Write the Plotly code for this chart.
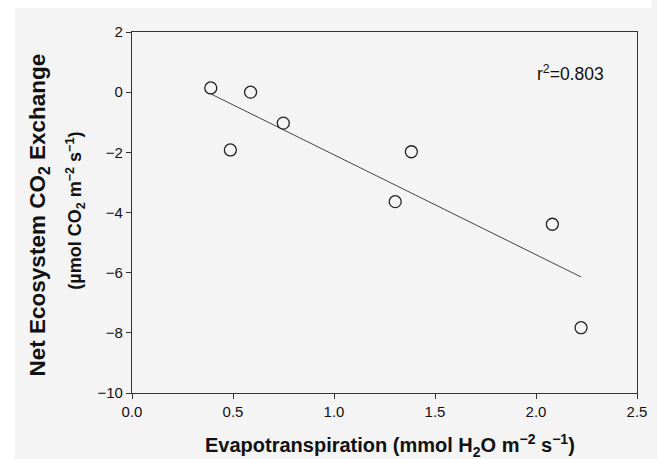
import numpy as np
import plotly.graph_objects as go

# Data
et = [0.39, 0.587, 0.487, 0.749, 1.383, 1.303, 2.081, 2.223]
nee = [0.14, 0.0, -1.92, -1.03, -1.98, -3.64, -4.39, -7.83]
r2_label = "r<sup>2</sup>=0.803"

x_ticks = [0.0, 0.5, 1.0, 1.5, 2.0, 2.5]
y_ticks = [2, 0, -2, -4, -6, -8, -10]

# Linear regression line
slope, intercept = np.polyfit(et, nee, 1)
fit_x = np.array([min(et), max(et)])
fit_y = slope * fit_x + intercept

W, H = 657, 459
L, R, T, B = 131.5, 10, 32, 66
pw, ph = W - L - R, H - T - B

BG = "#f4f4f4"
AX = "#333333"
FONT = "Arial, Liberation Sans, sans-serif"

fig = go.Figure()
fig.add_trace(go.Scatter(x=fit_x, y=fit_y, mode="lines",
                         line=dict(color="#444444", width=1), showlegend=False,
                         hoverinfo="skip"))
fig.add_trace(go.Scatter(x=et, y=nee, mode="markers",
                         marker=dict(symbol="circle-open", size=12, color="#222222",
                                     line=dict(color="#222222", width=1.3)),
                         showlegend=False))

tick_font = dict(family=FONT, size=15, color="#111111")

fig.update_layout(
    font=dict(family=FONT, size=15, color="#111111"),
    xaxis=dict(range=[0, 2.5], tickvals=x_ticks,
               ticktext=[f"{v:.1f}" for v in x_ticks],
               showline=True, linecolor=AX, linewidth=1.3, mirror=True,
               ticks="outside", ticklen=5, tickcolor=AX, tickwidth=1,
               showgrid=False, zeroline=False, tickfont=tick_font,
               ticklabeloverflow="allow"),
    yaxis=dict(range=[-10, 2], tickvals=y_ticks,
               ticktext=[str(v).replace("-", "\u2212") for v in y_ticks],
               showline=True, linecolor=AX, linewidth=1.3, mirror=True,
               ticks="outside", ticklen=5, tickcolor=AX, tickwidth=1,
               showgrid=False, zeroline=False, tickfont=tick_font,
               ticklabeloverflow="allow"),
)

def px_x(px):
    return (px - L) / pw

def px_y(py):
    return (H - B - py) / ph

annotations = [
    dict(x=px_x(615), xref="paper", y=px_y(73), yref="paper",
         text=r2_label, showarrow=False,
         font=dict(family=FONT, size=17.5, color="#111111"),
         xanchor="right", yanchor="middle"),
    dict(x=px_x(395), xref="paper", y=px_y(445), yref="paper",
         text="<b>Evapotranspiration (mmol H<sub>2</sub>O m<sup>\u22122</sup> s<sup>\u22121</sup>)</b>",
         showarrow=False, font=dict(family=FONT, size=20, color="#111111"),
         xanchor="center", yanchor="middle"),
    dict(x=px_x(37), xref="paper", y=px_y(215), yref="paper",
         text="<b>Net Ecosystem CO<sub>2</sub> Exchange</b>", textangle=-90,
         showarrow=False, font=dict(family=FONT, size=22.5, color="#111111"),
         xanchor="center", yanchor="middle"),
    dict(x=px_x(73), xref="paper", y=px_y(211), yref="paper",
         text="<b>(\u00b5mol CO<sub>2</sub> m<sup>\u22122</sup> s<sup>\u22121</sup>)</b>", textangle=-90,
         showarrow=False, font=dict(family=FONT, size=18, color="#111111"),
         xanchor="center", yanchor="middle"),
]

shapes = [
    dict(type="rect", xref="paper", yref="paper", layer="below",
         x0=px_x(-5), x1=px_x(12), y0=px_y(H + 5), y1=px_y(-5),
         fillcolor="white", line=dict(width=0)),
    dict(type="rect", xref="paper", yref="paper", layer="below",
         x0=px_x(-5), x1=px_x(W + 5), y0=px_y(8), y1=px_y(-5),
         fillcolor="white", line=dict(width=0)),
]

fig.update_layout(width=W, height=H, margin=dict(l=L, r=R, t=T, b=B),
                  paper_bgcolor=BG, plot_bgcolor=BG,
                  annotations=annotations, shapes=shapes)

fig.write_html("out.html")
